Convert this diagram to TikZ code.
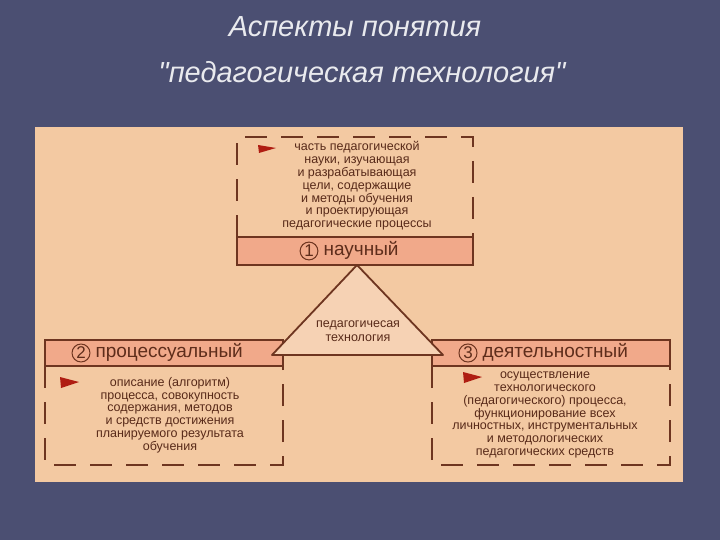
\documentclass[tikz,border=0pt]{standalone}
\usepackage{fontspec}
\setmainfont{Liberation Sans}
\newfontfamily\titlef{Liberation Sans}
\begin{document}
\begin{tikzpicture}[x=1pt,y=-1pt,
  dsh/.style={draw=brn,line width=1.6pt,dash pattern=on 22pt off 14pt},
  band/.style={fill=salm,draw=brn,line width=1.6pt},
  txt/.style={text=brn!80!black,font=\fontsize{12.5}{12.8}\selectfont,align=center},
  lab/.style={text=brn!85!black,font=\fontsize{19}{19}\selectfont,anchor=west},
  num/.style={circle,draw=brn,line width=1pt,inner sep=1pt,font=\fontsize{17}{17}\selectfont,text=brn!85!black},
  bullet/.style={fill=red!45!brn,draw=none}]
\definecolor{bg}{HTML}{4B4F72}
\definecolor{peach}{HTML}{F3C9A2}
\definecolor{salm}{HTML}{F1A98A}
\definecolor{brn}{HTML}{6E3520}
\definecolor{tri}{HTML}{F6D2B4}
\fill[bg] (0,0) rectangle (720,540);
\useasboundingbox (0,0) rectangle (720,540);
\node[text=white!88!bg,font=\titlef\itshape\fontsize{29}{29}\selectfont] (t1) at (355,27) {Аспекты понятия};
\node[text=white!88!bg,font=\titlef\itshape\fontsize{29}{29}\selectfont] (t2) at (362,72) {"педагогическая технология"};
\fill[peach] (35,127) rectangle (683,482);
% top box
\draw[dsh] (237,237) -- (237,137) -- (473,137) -- (473,237);
\draw[band] (237,237) rectangle (473,265);
\node[num] (n1) at (309,251) {1};
\node[lab] (l1) at (320,250) {научный};
\node[txt] (d1) at (357,186) {часть педагогической\\науки, изучающая\\и разрабатывающая\\цели, содержащие\\и методы обучения\\и проектирующая\\педагогические процессы};
\fill[bullet] (258,145) -- (276,148) -- (259,153) -- cycle;
% left box
\draw[band] (45,340) rectangle (283,366);
\draw[dsh] (45,366) -- (45,465) -- (283,465) -- (283,366);
\node[num] (n2) at (81,353) {2};
\node[lab] (l2) at (92,352) {процессуальный};
\node[txt] (d2) at (170,415) {описание (алгоритм)\\процесса, совокупность\\содержания, методов\\и средств достижения\\планируемого результата\\обучения};
\fill[bullet] (60,377) -- (79,382) -- (61,388) -- cycle;
% right box
\draw[band] (432,340) rectangle (670,366);
\draw[dsh] (432,366) -- (432,465) -- (670,465) -- (670,366);
\node[num] (n3) at (468,353) {3};
\node[lab] (l3) at (479,352) {деятельностный};
\node[txt] (d3) at (545,415) {осуществление\\технологического\\(педагогического) процесса,\\функционирование всех\\личностных, инструментальных\\и методологических\\педагогических средств};
\fill[bullet] (463,372) -- (482,377) -- (464,383) -- cycle;
% triangle
\draw[fill=tri,draw=brn,line width=1.8pt,line join=round] (357,265) -- (443,355) -- (272,355) -- cycle;
\node[txt,font=\fontsize{12.5}{13.5}\selectfont] (c) at (358,331) {педагогичесая\\технология};
\end{tikzpicture}
\end{document}
